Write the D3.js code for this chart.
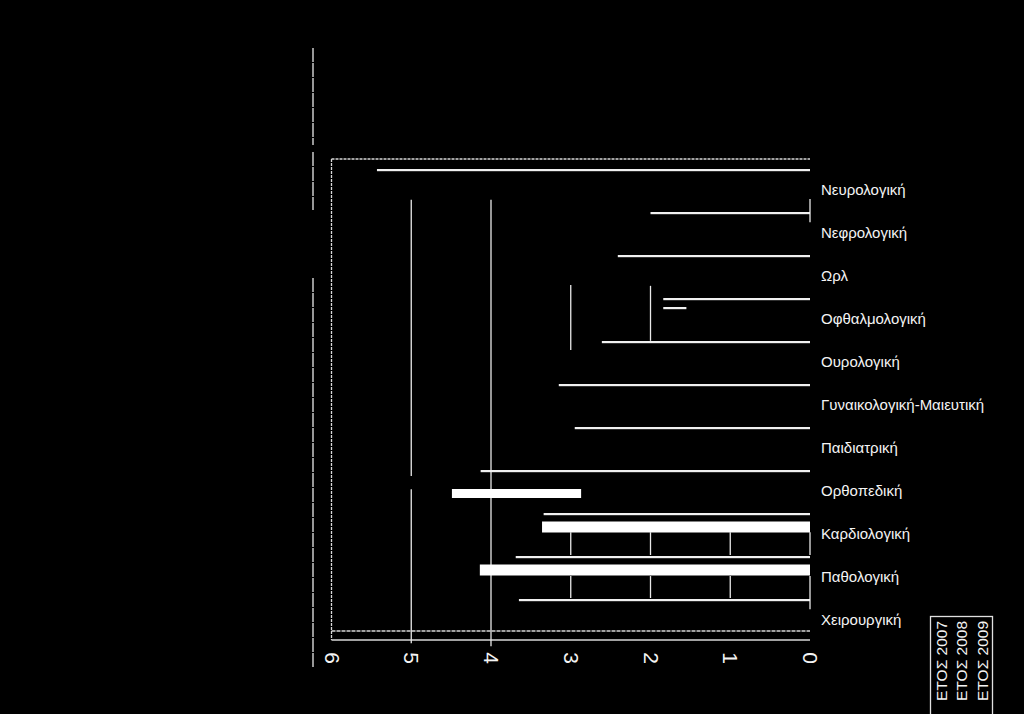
<!DOCTYPE html>
<html>
<head>
<meta charset="utf-8">
<script src="https://cdn.jsdelivr.net/npm/d3@7"></script>
<style>
  html, body { margin: 0; padding: 0; background: #000; }
  svg { display: block; }
  text { font-family: "Liberation Sans", Arial, sans-serif; fill: #f4f4f4; }
</style>
</head>
<body>
<svg id="chart" width="1024" height="714"></svg>
<script>
// ---- data ----
const categories = ["Νευρολογική", "Νεφρολογική", "Ωρλ", "Οφθαλμολογική", "Ουρολογική",
  "Γυναικολογική-Μαιευτική", "Παιδιατρική", "Ορθοπεδική", "Καρδιολογική", "Παθολογική", "Χειρουργική"];
const seriesNames = ["ΕΤΟΣ 2007", "ΕΤΟΣ 2008", "ΕΤΟΣ 2009"];
const tickValues = [0, 1, 2, 3, 4, 5, 6];

// thin bars (2007), one per department
const values2007 = [5.43, 2.0, 2.41, 1.84, 2.61, 3.15, 2.95, 4.13, 3.34, 3.69, 3.65];
// thick bars (2008), only partly legible in the scan
const values2008 = [null, null, null, null, null, null, null, null, 3.36, 4.14, null];
// floating segment (2009) visible only for Ορθοπεδική
const from2009 = [null, null, null, null, null, null, null, 2.87, null, null, null];
const to2009   = [null, null, null, null, null, null, null, 4.49, null, null, null];
// small fragment in Οφθαλμολογική
const fragmentCat = ["Οφθαλμολογική"];
const fragmentFrom = [1.55];
const fragmentTo = [1.84];

// grid line segments: value and span expressed in category units
const gridValues = [5, 5, 4, 3, 2, 0, 0, 1, 2, 3, 0, 1, 2, 3];
const gridFrom   = [0.74, 7.47, 0.74, 2.72, 2.74, 0.72, 8.47, 8.47, 8.47, 8.47, 9.49, 9.49, 9.49, 9.49];
const gridTo     = [7.16, 11.05, 11.12, 4.23, 4.02, 1.26, 9.0, 9.0, 9.0, 9.0, 10.26, 10.0, 10.0, 10.0];

// ---- drawing ----
const svg = d3.select("#chart");
svg.append("rect").attr("width", 1024).attr("height", 714).attr("fill", "#000");

const x = d3.scaleLinear().domain([0, 6]).range([810, 331.5]);
const y = d3.scaleBand().domain(categories).range([168, 641]).padding(0);
const yPos = d3.scaleLinear().domain([0, categories.length]).range([168, 641]);

const line = "#e8e8e8";

// far-left line (broken in scan)
[[48, 145], [152, 210], [278, 667]].forEach(([a, b]) => {
  svg.append("line").attr("x1", 313).attr("x2", 313).attr("y1", a).attr("y2", b)
    .attr("stroke", line).attr("stroke-width", 1.3).attr("stroke-dasharray", "14,1");
});

// frame
const frame = svg.append("g").attr("stroke", "#d8d8d8").attr("stroke-width", 1.3).attr("fill", "none");
frame.append("line").attr("x1", x(6)).attr("x2", x(0)).attr("y1", 159).attr("y2", 159).attr("stroke-dasharray", "3,1");
frame.append("line").attr("x1", x(6)).attr("x2", x(6)).attr("y1", 159).attr("y2", 640).attr("stroke-dasharray", "3,1");
frame.append("line").attr("x1", x(6)).attr("x2", x(0)).attr("y1", 631).attr("y2", 631).attr("stroke-dasharray", "4,1");
frame.append("line").attr("x1", x(6)).attr("x2", x(0)).attr("y1", 640).attr("y2", 640);

// grid segments
svg.append("g").selectAll("line").data(gridValues).join("line")
  .attr("x1", d => x(d)).attr("x2", d => x(d))
  .attr("y1", (d, i) => yPos(gridFrom[i])).attr("y2", (d, i) => yPos(gridTo[i]))
  .attr("stroke", line).attr("stroke-width", 1.3);

// 2007 thin bars
svg.append("g").selectAll("rect").data(values2007).join("rect")
  .attr("x", d => x(d)).attr("width", d => x(0) - x(d))
  .attr("y", (d, i) => y(categories[i]) + 1).attr("height", 2.2)
  .attr("fill", "#f0f0f0");

// 2008 thick bars
svg.append("g").selectAll("rect").data(values2008.map((v, i) => ({ v, c: categories[i] })).filter(d => d.v != null)).join("rect")
  .attr("x", d => x(d.v)).attr("width", d => x(0) - x(d.v))
  .attr("y", d => y(d.c) + 9.5).attr("height", 11)
  .attr("fill", "#ffffff");

// 2009 floating segment
svg.append("g").selectAll("rect").data(from2009.map((v, i) => ({ a: v, b: to2009[i], c: categories[i] })).filter(d => d.a != null)).join("rect")
  .attr("x", d => x(d.b)).attr("width", d => x(d.a) - x(d.b))
  .attr("y", d => y(d.c) + 20).attr("height", 9)
  .attr("fill", "#ffffff");

// fragment
svg.append("g").selectAll("rect").data(fragmentCat).join("rect")
  .attr("x", (d, i) => x(fragmentTo[i])).attr("width", (d, i) => x(fragmentFrom[i]) - x(fragmentTo[i]))
  .attr("y", d => y(d) + 10).attr("height", 2.2)
  .attr("fill", "#f0f0f0");

// x axis tick labels (rotated)
const xAxis = d3.axisBottom(x).tickValues(tickValues).tickFormat(d3.format("d")).tickSize(0);
const gx = svg.append("g").attr("transform", "translate(0,658)").call(xAxis);
gx.select(".domain").remove();
gx.selectAll("text")
  .attr("y", 0).attr("dy", null)
  .attr("transform", "rotate(90)")
  .attr("text-anchor", "middle")
  .attr("dominant-baseline", "central")
  .style("font-size", "21px")
  .style("font-family", "Liberation Sans, Arial, sans-serif")
  .attr("fill", "#f4f4f4");

// category labels
svg.append("g").selectAll("text").data(categories).join("text")
  .attr("x", 821).attr("y", d => y(d) + y.bandwidth() / 2)
  .attr("dominant-baseline", "central")
  .style("font-size", "15px")
  .text(d => d);

// legend
const lg = svg.append("g");
lg.append("rect").attr("x", 930.5).attr("y", 616.5).attr("width", 62).attr("height", 120)
  .attr("fill", "none").attr("stroke", "#e0e0e0").attr("stroke-width", 1.3);
lg.selectAll("text").data(seriesNames).join("text")
  .attr("transform", (d, i) => `translate(${941 + i * 20.8},621) rotate(-90)`)
  .attr("text-anchor", "end")
  .attr("dominant-baseline", "central")
  .style("font-size", "15.5px")
  .text(d => d);
</script>
</body>
</html>
